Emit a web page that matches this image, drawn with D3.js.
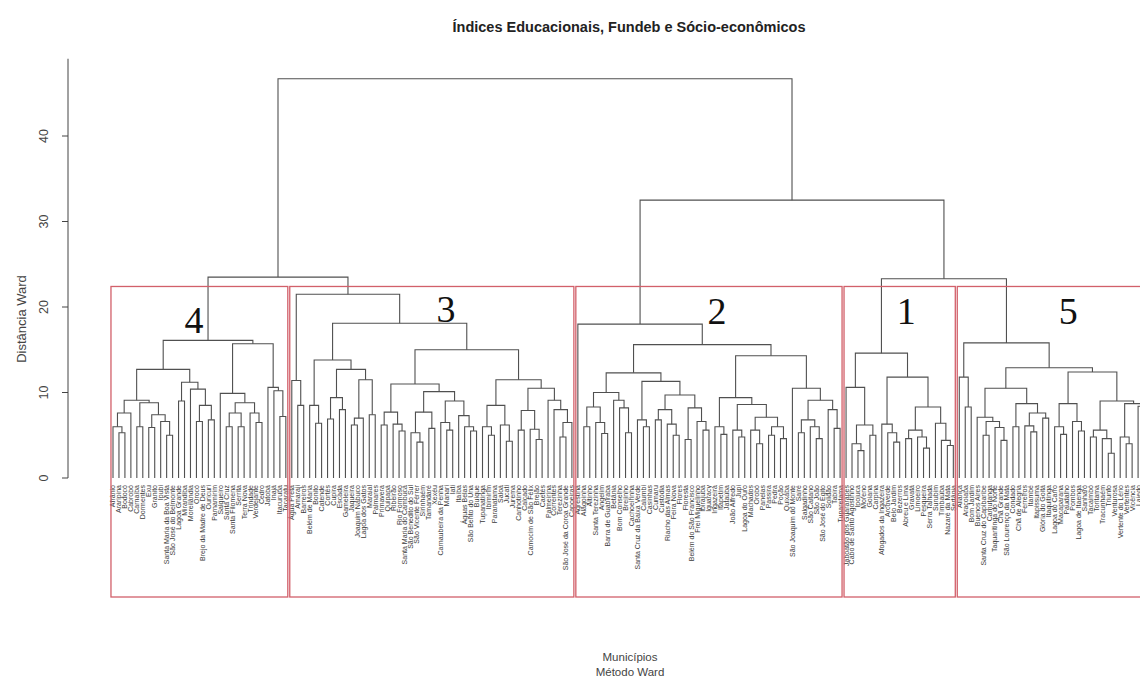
<!DOCTYPE html>
<html>
<head>
<meta charset="utf-8">
<script src="https://cdn.jsdelivr.net/npm/d3@7"></script>
<style>
  body { margin: 0; background: #fff; }
  svg { display: block; }
</style>
</head>
<body>
<svg id="chart" width="1140" height="681"></svg>
<script>
// Ward clustering of municipalities: each internal node is [height, left, right],
// L marks a leaf (municipality, filled in order from the name lists below).
const L = null;

const cluster4 = [16.1,
  [12.7,
    [9.1, [7.6, [6.0, L, [5.3, L, L]], L],
          [8.8, [6.0, L, L], [7.4, [5.9, L, L], [6.6, L, [5.0, L, L]]]]],
    [11.2, [9.0, L, L], [10.4, L, [8.5, [6.6, L, L], [6.8, L, L]]]]],
  [15.7,
    [9.9, L, [8.8, [7.6, [6.0, L, L], [6.0, L, L]], [7.6, L, [6.5, L, L]]]],
    [10.6, L, [10.2, L, [7.2, L, L]]]]];

const cluster3 = [21.5,
  [11.4, L, [8.5, L, L]],
  [18.1,
    [13.8,
      [8.5, L, [6.4, L, L]],
      [12.7,
        [9.4, [6.9, L, L], [8.0, L, L]],
        [11.5, [7.0, [6.2, L, L], L], [7.4, L, L]]]],
    [15.0,
      [11.0,
        [7.7, [6.2, L, L], [6.3, L, [5.5, L, L]]],
        [10.1,
          [7.7, [5.3, L, [4.2, L, L]], [5.8, L, L]],
          [9.0, [6.5, L, [5.6, L, L]], [7.3, L, [6.0, L, [5.5, L, L]]]]]],
      [11.5,
        [8.5, [6.0, L, [5.0, L, L]], [6.2, L, [4.3, L, L]]],
        [10.5,
          [7.9, [5.6, L, L], [5.7, L, [4.5, L, L]]],
          [9.1, L, [8.0, L, [6.5, [4.8, L, L], L]]]]]]]];

const cluster2 = [18.0,
  L,
  [15.6,
    [12.3,
      [10.0, [8.3, [6.0, L, L], [6.5, L, [5.2, L, L]]], [9.1, L, [8.2, L, [5.3, L, L]]]],
      [11.3, [6.8, L, [6.0, L, L]],
             [9.7, [8.0, [6.8, L, L], [6.3, L, [5.0, L, L]]],
                   [8.2, [4.5, L, L], [6.6, L, [5.6, L, L]]]]]],
    [14.3,
      [9.4, [6.0, L, [5.1, L, L]],
            [8.6, [5.6, L, [4.8, L, L]],
                  [7.1, [5.6, L, [4.0, L, L]], [6.0, [5.0, L, L], [4.6, L, L]]]]],
      [10.5, L, [9.1, [6.8, [5.3, L, L], [6.0, L, [4.6, L, L]]], [8.0, L, [5.8, L, L]]]]]]];

const cluster1 = [14.6,
  [10.6, L, [6.2, [4.0, L, [3.2, L, L]], [5.0, L, L]]],
  [11.8,
    [6.3, L, [5.3, L, [4.2, L, L]]],
    [8.3, [5.6, [4.6, L, L], [4.8, L, [3.5, L, L]]], [6.4, L, [4.4, L, [3.8, L, L]]]]]];

const cluster5 = [15.8,
  [11.8, L, [8.3, L, L]],
  [12.9,
    [10.5,
      [7.1, L, [6.6, [5.0, L, L], [5.9, L, [4.4, L, L]]]],
      [8.7, [6.0, L, L], [7.6, [6.1, L, [5.4, L, L]], [7.0, L, L]]]],
    [12.4,
      [8.7, [6.0, L, [5.1, L, L]], [6.6, L, [5.5, L, L]]],
      [9.0, [5.6, [4.8, L, L], [4.6, L, [2.9, L, L]]],
            [8.7, [4.8, L, [4.0, L, L]], [8.4, L, [5.5, L, L]]]]]]];

// upper merges joining the five groups
const tree = [46.7, [23.5, cluster4, cluster3], [32.5, cluster2, [23.3, cluster1, cluster5]]];
const groupTrees = [cluster4, cluster3, cluster2, cluster1, cluster5];
const groupNames = ["4", "3", "2", "1", "5"];

// municipalities, in dendrogram leaf order
const names4 = ["Afrânio", "Araripina", "Bodocó", "Cabrobó", "Carnaíba", "Dormentes", "Exu", "Granito",
  "Ipubi", "Santa Maria da Boa Vista", "São José do Belmonte", "Lagoa Grande", "Mirandiba", "Moreilândia",
  "Orocó", "Brejo da Madre de Deus", "Ouricuri", "Parnamirim", "Salgueiro", "Santa Cruz", "Santa Filomena",
  "Serrita", "Terra Nova", "Trindade", "Verdejante", "Cedro", "Jatobá", "Inajá", "Itacuruba", "Tacaratu"];
const names3 = ["Água Preta", "Amaraji", "Barreiros", "Belém de Maria", "Bonito", "Catende", "Cortês", "Cupira",
  "Escada", "Gameleira", "Jaqueira", "Joaquim Nabuco", "Lagoa dos Gatos", "Maraial", "Palmares", "Primavera",
  "Quipapá", "Ribeirão", "Rio Formoso", "Santa Maria do Cambucá", "São Benedito do Sul", "São Vicente Férrer",
  "Sirinhaém", "Tamandaré", "Xexéu", "Carnaubeira da Penha", "Manari", "Iati", "Itaíba", "Águas Belas",
  "São Bento do Una", "Buíque", "Tupanatinga", "Ibimirim", "Paranatama", "Saloá", "Jucati", "Jurema",
  "Canhotinho", "Calçado", "Camocim de São Félix", "Brejão", "Caetés", "Palmeirina", "Correntes", "Terezinha",
  "São José da Coroa Grande", "Capoeiras"];
const names2 = ["Agrestina", "Alagoinha", "Altinho", "Santa Terezinha", "Angelim", "Barra de Guabiraba", "Betânia",
  "Bom Conselho", "Brejinho", "Cachoeirinha", "Santa Cruz da Baixa Verde", "Calumbi", "Casinhas", "Cumaru",
  "Custódia", "Riacho das Almas", "Feira Nova", "Flores", "Floresta", "Belém do São Francisco", "Frei Miguelinho",
  "Ibirajuba", "Iguaracy", "Ingazeira", "Itapetim", "Jataúba", "João Alfredo", "Jupi", "Lagoa do Ouro", "Machados",
  "Orobó", "Panelas", "Passira", "Pedra", "Poção", "Quixaba", "São Joaquim do Monte", "Sairé", "Salgadinho",
  "São Caitano", "São João", "São José do Egito", "Solidão", "Tabira", "Tuparetama"];
const names1 = ["Jaboatão dos Guararapes", "Cabo de Santo Agostinho", "Ipojuca", "Moreno", "Goiana", "Carpina",
  "Afogados da Ingazeira", "Arcoverde", "Belo Jardim", "Bezerros", "Abreu e Lima", "Gravatá", "Limoeiro",
  "Pesqueira", "Serra Talhada", "Surubim", "Timbaúba", "Nazaré da Mata", "Sertânia"];
const names5 = ["Aliança", "Araçoiaba", "Bom Jardim", "Buenos Aires", "Santa Cruz do Capibaribe", "Camutanga",
  "Taquaritinga do Norte", "Chã Grande", "São Lourenço da Mata", "Condado", "Chã de Alegria", "Ferreiros",
  "Itambé", "Itapissuma", "Glória do Goitá", "Itaquitinga", "Lagoa do Carro", "Macaparana", "Paudalho", "Pombos",
  "Lagoa de Itaenga", "Sanharó", "Tacaimbó", "Toritama", "Tracunhaém", "Triunfo", "Venturosa",
  "Vertente do Lério", "Vertentes", "Vicência", "Lajedo", "Ilha de Itamaracá", "Caruaru"];
const municipios = [...names4, ...names3, ...names2, ...names1, ...names5];

const yTicks = [0, 10, 20, 30, 40];
const title = "Índices Educacionais, Fundeb e Sócio-econômicos";
const yTitle = "Distância Ward";
const xTitle = ["Municípios", "Método Ward"];

// ---------------------------------------------------------------------------
const svg = d3.select("#chart");
const x = d3.scaleLinear().domain([0, municipios.length - 1]).range([113, 1150]);
const y = d3.scaleLinear().domain([0, 40]).range([478, 136]);
const plotBottom = 597;

// walk the merge tree, placing leaves in order and parents midway between children
let nextLeaf = 0;
const merges = [];
const leaves = [];
function place(n) {
  if (n === L) {
    const i = nextLeaf++;
    const leaf = { leaf: true, i, first: i, last: i, h: 0, x: x(i), name: municipios[i] };
    leaves.push(leaf);
    return leaf;
  }
  const [h, a, b] = n;
  const l = place(a), r = place(b);
  const node = { h, l, r, x: (l.x + r.x) / 2, first: l.first, last: r.last, src: n };
  merges.push(node);
  return node;
}
const root = place(tree);

// links: elbow from each child up to the merge height
svg.append("g")
  .attr("fill", "none")
  .attr("stroke", "#505050")
  .attr("stroke-width", 1.1)
  .selectAll("path")
  .data(merges)
  .join("path")
  .attr("d", d => `M${d.l.x},${y(d.l.h)}V${y(d.h)}H${d.r.x}V${y(d.r.h)}`);

// leaf labels
svg.append("g")
  .attr("font-family", "Liberation Sans, Arial, sans-serif")
  .attr("font-size", 7)
  .attr("fill", "#3a3a3a")
  .selectAll("text")
  .data(leaves)
  .join("text")
  .attr("transform", d => `translate(${d.x},${y(0) + 7}) rotate(-90)`)
  .attr("text-anchor", "end")
  .attr("dy", "0.35em")
  .text(d => d.name);

// cut into five groups: rectangles reach halfway between the 4th and 5th highest merges
const heights = merges.map(d => d.h).sort((a, b) => b - a);
const k = groupTrees.length;
const cutH = (heights[k - 2] + heights[k - 1]) / 2;
const groups = groupTrees.map((t, j) => {
  const n = merges.find(m => m.src === t);
  return { name: groupNames[j], first: n.first, last: n.last };
});
svg.append("g")
  .attr("fill", "none")
  .attr("stroke", "#d2606a")
  .attr("stroke-width", 1.3)
  .selectAll("rect")
  .data(groups)
  .join("rect")
  .attr("x", d => x(d.first - 0.34))
  .attr("y", y(cutH))
  .attr("width", d => x(d.last + 0.33) - x(d.first - 0.34))
  .attr("height", plotBottom - y(cutH));

// group numbers
const tagAt = [0.47, 0.55, 0.53, 0.56, 0.57];
const tagDrop = [47, 36, 38, 38, 38];
svg.append("g")
  .attr("font-family", "Liberation Serif, Times New Roman, serif")
  .attr("font-size", 38)
  .attr("fill", "#111")
  .attr("text-anchor", "middle")
  .selectAll("text")
  .data(groups)
  .join("text")
  .attr("x", (d, j) => {
    const a = x(d.first - 0.34), b = x(d.last + 0.33);
    return a + tagAt[j] * (b - a);
  })
  .attr("y", (d, j) => y(cutH) + tagDrop[j])
  .text(d => d.name);

// y axis
const axisX = 68;
const axisG = svg.append("g").attr("transform", `translate(${axisX},0)`);
axisG.append("line")
  .attr("y1", y(0)).attr("y2", y(root.h * 1.05))
  .attr("stroke", "#444");
axisG.call(g => {
  const t = g.selectAll(".tk").data(yTicks).join("g").attr("class", "tk")
    .attr("transform", d => `translate(0,${y(d)})`);
  t.append("line").attr("x1", -6).attr("x2", 0).attr("stroke", "#444");
  t.append("text")
    .attr("transform", "rotate(-90)")
    .attr("y", -20.5)
    .attr("text-anchor", "middle")
    .attr("font-family", "Liberation Sans, Arial, sans-serif")
    .attr("font-size", 12.5)
    .attr("fill", "#444")
    .text(d => d);
});
svg.append("text")
  .attr("transform", `translate(26,${(y(0) + y(40)) / 2 + 12}) rotate(-90)`)
  .attr("text-anchor", "middle")
  .attr("font-family", "Liberation Sans, Arial, sans-serif")
  .attr("font-size", 13)
  .attr("fill", "#444")
  .text(yTitle);

// titles
svg.append("text")
  .attr("x", 629).attr("y", 32)
  .attr("text-anchor", "middle")
  .attr("font-family", "Liberation Sans, Arial, sans-serif")
  .attr("font-weight", "bold")
  .attr("font-size", 14.5)
  .attr("fill", "#222")
  .text(title);
svg.append("g")
  .attr("font-family", "Liberation Sans, Arial, sans-serif")
  .attr("font-size", 11.5)
  .attr("fill", "#444")
  .attr("text-anchor", "middle")
  .selectAll("text")
  .data(xTitle)
  .join("text")
  .attr("x", 630)
  .attr("y", (d, i) => 661 + i * 15)
  .text(d => d);
</script>
</body>
</html>
